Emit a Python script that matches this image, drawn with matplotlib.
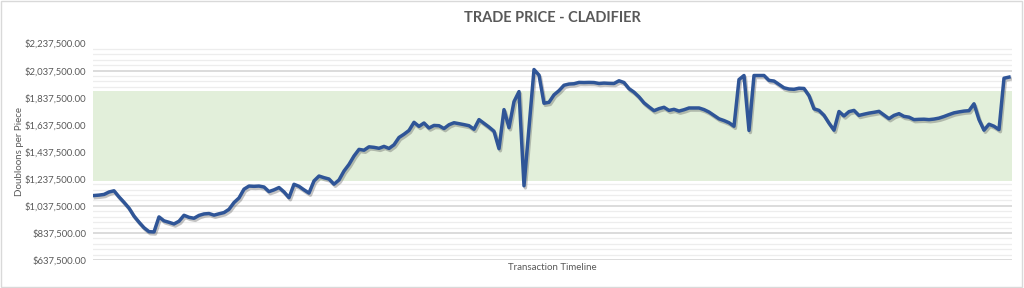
import numpy as np
import matplotlib
matplotlib.use('Agg')
import matplotlib.pyplot as plt
import matplotlib.patheffects as pe
from matplotlib.ticker import FixedLocator, FuncFormatter

# precio por transaccion
precios = [
    1114000, 1117000, 1122000, 1140000, 1149000, 1104000, 1064000, 1021000, 962000, 917000,
    876000, 847000, 845000, 956000, 927000, 916000, 904000, 924000, 968000, 953000,
    946000, 967000, 978000, 981000, 969000, 979000, 988000, 1012000, 1062000, 1096000,
    1161000, 1184000, 1182000, 1184000, 1177000, 1143000, 1156000, 1173000, 1141000, 1098000,
    1197000, 1182000, 1156000, 1132000, 1222000, 1258000, 1246000, 1236000, 1198000, 1229000,
    1295000, 1344000, 1406000, 1455000, 1449000, 1474000, 1470000, 1463000, 1477000, 1462000,
    1489000, 1543000, 1567000, 1595000, 1655000, 1625000, 1650000, 1613000, 1632000, 1630000,
    1609000, 1637000, 1652000, 1645000, 1638000, 1630000, 1604000, 1675000, 1648000, 1620000,
    1589000, 1460000, 1749000, 1615000, 1808000, 1882000, 1186000, 1615000, 2045000, 2004000,
    1796000, 1803000, 1858000, 1889000, 1929000, 1938000, 1940000, 1950000, 1949000, 1950000,
    1949000, 1942000, 1945000, 1943000, 1942000, 1962000, 1949000, 1904000, 1878000, 1843000,
    1799000, 1769000, 1741000, 1756000, 1766000, 1743000, 1751000, 1738000, 1748000, 1761000,
    1761000, 1761000, 1749000, 1731000, 1706000, 1681000, 1668000, 1652000, 1626000, 1971000,
    2001000, 1595000, 2001000, 2001000, 2001000, 1965000, 1960000, 1935000, 1910000, 1901000,
    1899000, 1907000, 1905000, 1852000, 1755000, 1743000, 1707000, 1649000, 1597000, 1735000,
    1702000, 1734000, 1743000, 1706000, 1715000, 1723000, 1729000, 1736000, 1709000, 1682000,
    1706000, 1719000, 1699000, 1693000, 1675000, 1677000, 1678000, 1675000, 1679000, 1686000,
    1698000, 1712000, 1725000, 1732000, 1738000, 1741000, 1792000, 1675000, 1597000, 1641000,
    1626000, 1601000, 1981000, 1989000,
]

banda_baja = 1225000
banda_alta = 1885000

y_min = 637500
y_max = 2237500
paso_mayor = 200000
paso_menor = 40000

titulo = 'TRADE PRICE - CLADIFIER'
etiqueta_x = 'Transaction Timeline'
etiqueta_y = 'Doubloons per Piece'

gris = '#595959'
azul = '#2f5597'

plt.rcParams['font.family'] = ['Lato', 'DejaVu Sans']

fig = plt.figure(figsize=(10.24, 2.88), dpi=100)
ax = fig.add_axes([93 / 1024, 1 - 260 / 288, (1012 - 93) / 1024, (260 - 43.5) / 288])

x = np.arange(len(precios))
ax.set_xlim(-0.2, len(precios) - 1 + 0.6)
ax.set_ylim(y_min, y_max)

mayores = np.arange(y_min, y_max + 1, paso_mayor)
menores = [v for v in np.arange(y_min, y_max + 1, paso_menor) if v not in mayores]
ax.yaxis.set_major_locator(FixedLocator(mayores))
ax.yaxis.set_minor_locator(FixedLocator(menores))
ax.set_axisbelow(True)
ax.grid(which='major', axis='y', color='#d9d9d9', linewidth=1.3)
ax.grid(which='minor', axis='y', color='#ededed', linewidth=0.9)

# la banda tapa la rejilla, como en el original
ax.axhspan(banda_baja, banda_alta, color='#e2efda', linewidth=0, zorder=1)

ax.plot(x, precios, color=azul, linewidth=2.5, solid_joinstyle='round', zorder=3,
        path_effects=[pe.SimpleLineShadow(offset=(1, -1.5), shadow_color='#555555', alpha=0.35),
                      pe.Normal()])

ax.yaxis.set_major_formatter(FuncFormatter(lambda v, p: '${:,.2f}'.format(v)))
ax.tick_params(axis='y', which='both', length=0, labelsize=6.8, labelcolor=gris, pad=5)
ax.set_xticks([])
for s in ax.spines.values():
    s.set_visible(False)

ax.set_ylabel(etiqueta_y, fontsize=7, color=gris)
ax.yaxis.set_label_coords(-69 / 919, 0.5)
ax.set_xlabel(etiqueta_x, fontsize=7, color=gris, labelpad=2)

fig.text(552 / 1024, 1 - 18 / 288, titulo, ha='center', va='center',
         fontsize=10.5, fontweight='bold', color=gris)

fig.patches.append(plt.Rectangle((0.001, 0.002), 0.997, 0.995, transform=fig.transFigure,
                                 fill=False, edgecolor='#d9d9d9', linewidth=1))

fig.savefig('out.png', dpi=100)
